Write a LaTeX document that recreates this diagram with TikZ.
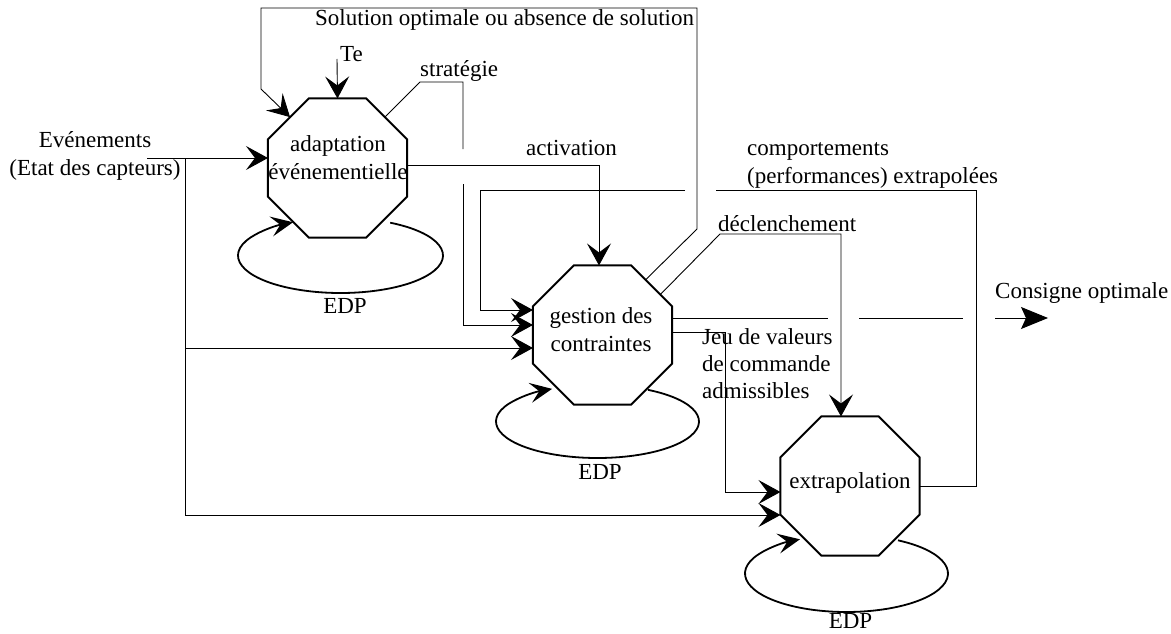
\documentclass[tikz,border=0pt]{standalone}
\usepackage{fontspec}
\setmainfont{Liberation Serif}
\usetikzlibrary{shapes.geometric,arrows.meta,calc}
\begin{document}
\begin{tikzpicture}[x=1pt,y=-1pt,
  font=\fontsize{23}{28}\selectfont,
  octo/.style={draw,line width=2pt,regular polygon,regular polygon sides=8,minimum size=150.5pt,inner sep=0pt,outer sep=0pt},
  wire/.style={line width=0.9pt},
  arr/.style={wire,-{Stealth[length=22pt,width=24pt,inset=9pt]}},
  bigarr/.style={wire,-{Stealth[length=27pt,width=22pt,inset=5pt]}},
  loopy/.style={line width=1.8pt,-{Stealth[length=22pt,width=20pt,inset=9pt]}},
  lbl/.style={inner sep=0pt,anchor=base west,align=left}]
\fill[white] (0,0) rectangle (1171,634);
\useasboundingbox (0,0) rectangle (1171,634);

% octagons
\node[octo] (A) at (337.5,168) {};
\node[octo] (G) at (602.5,335) {};
\node[octo] (X) at (850,486) {};

% texts inside
\node[inner sep=0pt,align=center] (tA) at (338,158) {adaptation\\événementielle};
\node[inner sep=0pt,align=center] (tG) at (601,330) {gestion des\\contraintes};
\node[inner sep=0pt] (tX) at (850,483) {extrapolation};

% EDP loops
\draw[loopy] ($(A)+(3,87.5)$) ++(-61:102.5 and 37.5) arc[start angle=-61,end angle=242.4,x radius=102.5,y radius=37.5];
\draw[loopy] ($(G)+(-5,86.5)$) ++(-60.2:101.5 and 36.5) arc[start angle=-60.2,end angle=243.4,x radius=101.5,y radius=36.5];
\draw[loopy] ($(X)+(-3.5,87.5)$) ++(-59.5:101.5 and 38.5) arc[start angle=-59.5,end angle=242.7,x radius=101.5,y radius=38.5];
\node[inner sep=0pt,anchor=base] (eA) at (345,313) {EDP};
\node[inner sep=0pt,anchor=base] (eG) at (600,479) {EDP};
\node[inner sep=0pt,anchor=base] (eX) at (850.5,628) {EDP};

% labels (multi-line nodes: base = last line)
\node[lbl] (sol) at (315,26) {Solution optimale ou absence de solution};
\node[lbl] (te) at (340,62) {Te};
\node[lbl] (strat) at (420,77) {stratégie};
\node[lbl] (act) at (526,155) {activation};
\node[lbl] (comp) at (747,183) {comportements\\(performances) extrapolées};
\node[lbl] (decl) at (718,231) {déclenchement};
\node[lbl,font=\fontsize{23}{27}\selectfont] (jeu) at (702,398) {Jeu de valeurs\\de commande\\admissibles};
\node[lbl] (cons) at (995,298) {Consigne optimale};
\node[inner sep=0pt,align=center,anchor=base] (ev) at (95,175) {Evénements\\(Etat des capteurs)};

% coordinates
\coordinate (teS) at (337,59);
\coordinate (evS) at (147,158);
\coordinate (evJ) at (185,158);
\coordinate (evJ2) at (185,348);

% Te
\draw[arr] (teS) -- (A.north);
% Solution optimale feedback
\draw[arr] (G.52) -- (697,229) -- (697,8) -- (261,8) -- (261,89) -- (A.133);
% strategie
\draw[wire] (A.47) -- (420,82) -- (463,82) -- (463,149);
\draw[arr] (463,184) -- (463,325) -- (G.west |- 0,325);
% activation
\draw[arr] (A.east |- 0,165) -- (599,165) -- (599,0 |- G.north);
% comportements extrapolees
\draw[wire] (X.east) -- (976,486) -- (976,190) -- (716,190);
\draw[arr] (685,190) -- (480,190) -- (480,310) -- (G.west |- 0,310);
% declenchement
\draw[arr] (G.35) -- (720,234) -- (841,234) -- (841,0 |- X.north);
% jeu de valeurs
\draw[arr] (G.east |- 0,332) -- (725,332) -- (725,492) -- (X.west |- 0,492);
% consigne optimale
\draw[wire] (G.east |- 0,318) -- (828,318);
\draw[wire] (859,318) -- (963,318);
\draw[bigarr] (995,318) -- (1048,318);
% evenements
\draw[arr] (evS) -- (A.west |- evS);
\draw[arr] (evJ) -- (evJ2) -- (G.west |- evJ2);
\draw[arr] (evJ2) -- (185,515) -- (X.west |- 0,515);
\end{tikzpicture}
\end{document}
